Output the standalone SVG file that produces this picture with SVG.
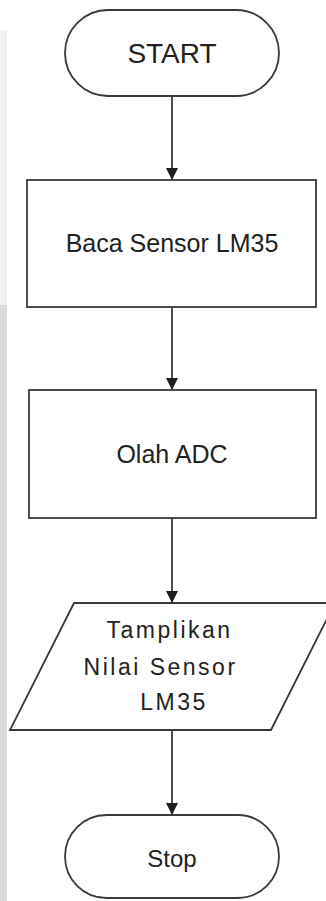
<svg xmlns="http://www.w3.org/2000/svg" width="326" height="901" viewBox="0 0 326 901">
  <style>
    .shape { fill: #ffffff; stroke: #3a3a3a; stroke-width: 1.8; }
    .edge { fill: none; stroke: #3a3a3a; stroke-width: 1.8; }
    .label { font-family: "Liberation Sans", Arial, sans-serif; fill: #222222; text-anchor: middle; }
  </style>
  <defs>
    <marker id="arrow" viewBox="0 0 12 16" refX="12" refY="6" markerWidth="12" markerHeight="16" markerUnits="userSpaceOnUse" orient="auto">
      <path d="M0,0 L12,6 L0,12 Z" fill="#1e1e1e"/>
    </marker>
  </defs>

  <rect width="326" height="901" fill="#ffffff"/>
  <!-- faint band along the left margin -->
  <rect x="0" y="30" width="7" height="275" fill="#f0f0f0"/>
  <rect x="0" y="305" width="7" height="596" fill="#dadada"/>

  <g id="connectors">
    <path class="edge" d="M172,96 V180" marker-end="url(#arrow)"/>
    <path class="edge" d="M172,307 V390" marker-end="url(#arrow)"/>
    <path class="edge" d="M172,518 V603" marker-end="url(#arrow)"/>
    <path class="edge" d="M172,730 V815" marker-end="url(#arrow)"/>
  </g>

  <g id="start">
    <rect class="shape" x="65" y="10" width="214" height="86" rx="43" ry="43"/>
    <text class="label" x="172" y="63" font-size="28">START</text>
  </g>

  <g id="baca-sensor">
    <rect class="shape" x="27" y="180" width="289" height="127"/>
    <text class="label" x="172" y="252" font-size="25">Baca Sensor LM35</text>
  </g>

  <g id="olah-adc">
    <rect class="shape" x="29" y="390" width="287" height="128"/>
    <text class="label" x="172" y="463" font-size="25">Olah ADC</text>
  </g>

  <g id="tampilkan">
    <polygon class="shape" points="74,603 335,603 271,730 10,730"/>
    <text class="label" font-size="23" letter-spacing="2.5">
      <tspan x="174" y="638">Tamplikan</tspan>
      <tspan x="165" y="675">Nilai Sensor</tspan>
      <tspan x="174" y="710">LM35</tspan>
    </text>
  </g>

  <g id="stop">
    <rect class="shape" x="65" y="815" width="214" height="83" rx="41.5" ry="41.5"/>
    <text class="label" x="172" y="867" font-size="24">Stop</text>
  </g>
</svg>
